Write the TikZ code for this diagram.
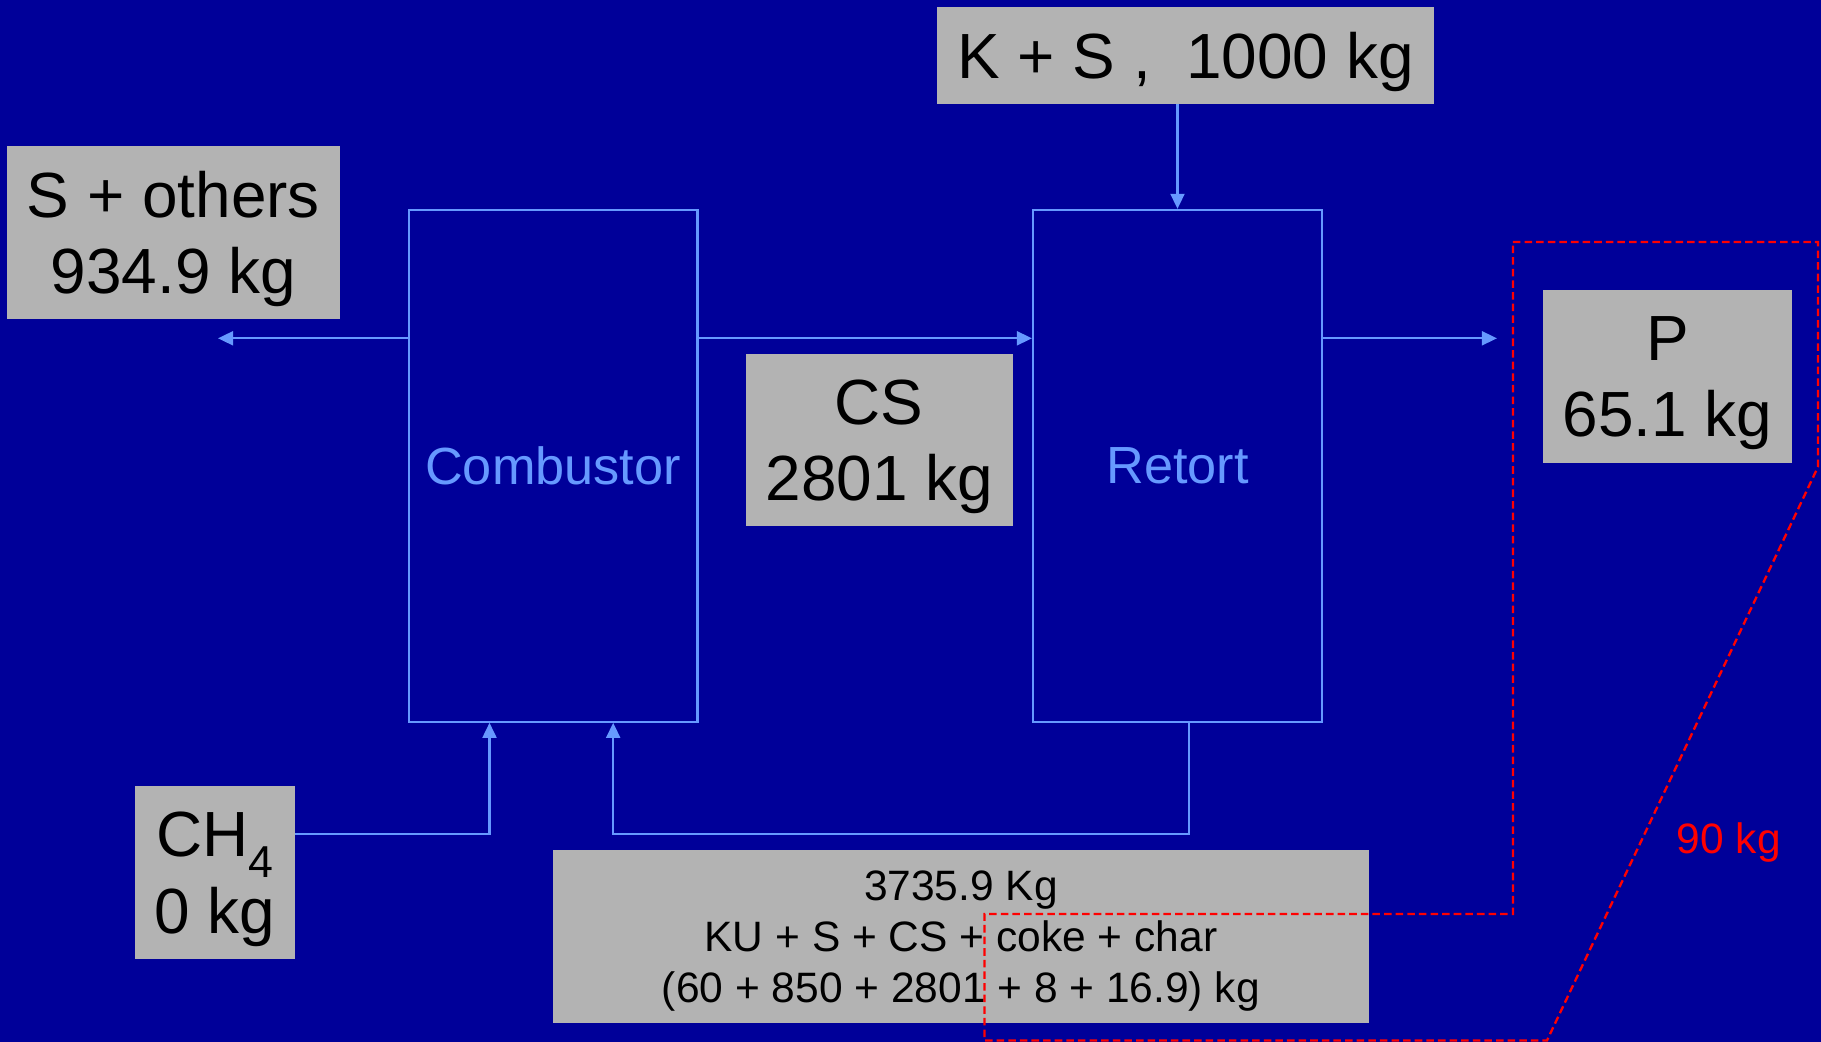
\documentclass[tikz,border=0pt]{standalone}
\usepackage{fontspec}
\setmainfont{Liberation Sans}
\usetikzlibrary{arrows.meta, positioning}
\definecolor{Fondo}{RGB}{0,0,153}
\definecolor{Caja}{RGB}{179,179,179}
\definecolor{Linea}{RGB}{102,153,255}
\newcommand{\grande}{\fontsize{55}{66}\selectfont}
\newcommand{\medio}{\fontsize{45}{54}\selectfont}
\newcommand{\chico}{\fontsize{36.6}{44}\selectfont}

\begin{document}
\begin{tikzpicture}[
  x=1pt, y=-1pt,
  unit/.style={draw=Linea, line width=1.9pt, minimum width=248.7pt,
               minimum height=440.6pt, inner sep=0pt, text=Linea,
               font=\medio},
  dato/.style={fill=Caja, inner sep=0pt, align=center, text depth=0pt,
               font=\grande},
  arr/.style={-{Triangle[length=13pt,width=12pt]}, draw=Linea,
              line width=1.9pt},
  limite/.style={draw=red, line width=2pt, dash pattern=on 6.5pt off 3.5pt}
]
\useasboundingbox (0,0) rectangle (1568,897);
\fill[Fondo] (0,0) rectangle (1568,897);

\node[unit] (comb) at (476.2,401.1) {Combustor};
\node[unit] (ret)  at (1013.9,401.1) {Retort};

\node[dato, minimum width=427.9pt, minimum height=83.6pt]
  (feed) at (1020.8,47.5) {K + S ,~ 1000 kg};
\node[dato, minimum width=286.6pt, minimum height=148.7pt]
  (others) at (149.3,200) {S + others\\934.9 kg};
\node[dato, minimum width=230pt, minimum height=148pt]
  (cs) at (757,379) {CS\\2801 kg};
\node[dato, minimum width=214.4pt, minimum height=149pt]
  (prod) at (1435.8,324.2) {P\\65.1 kg};
\node[dato, minimum width=137.8pt, minimum height=148.7pt]
  (ch4) at (185.1,751.2) {CH\textsubscript{4}\\0 kg};
\node[dato, font=\chico, minimum width=702.8pt, minimum height=149pt]
  (mezcla) at (827.4,806.4)
  {3735.9 Kg\\KU + S + CS + coke + char\\(60 + 850 + 2801 + 8 + 16.9) kg};

\coordinate (salS)  at (187.7,291.3);
\coordinate (salP)  at (1289,291.3);
\coordinate (codoA) at (421.5,718);
\coordinate (codoB) at (528,718);
\coordinate (codoC) at (1023.8,718);

\draw[arr] (comb.west |- salS) -- (salS);
\draw[arr] (comb.east |- salS) -- (ret.west |- salS);
\draw[arr] (ret.east |- salP) -- (salP);
\draw[arr] (feed.south -| ret.north) -- (ret.north);
\draw[arr] (ch4.east |- codoA) -- (codoA) -- (codoA |- comb.south);
\draw[arr] (codoC |- ret.south) -- (codoC) -- (codoB) -- (codoB |- comb.south);

\draw[limite] (1302.7,208.4) -- (1565.4,208.4) -- (1565.4,402)
  -- (1332,896) -- (847.7,896) -- (847.7,787) -- (1302.7,787) -- cycle;
\node[text=red, font=\chico, anchor=base] (perd) at (1488.6,735.3) {90 kg};
\end{tikzpicture}
\end{document}
